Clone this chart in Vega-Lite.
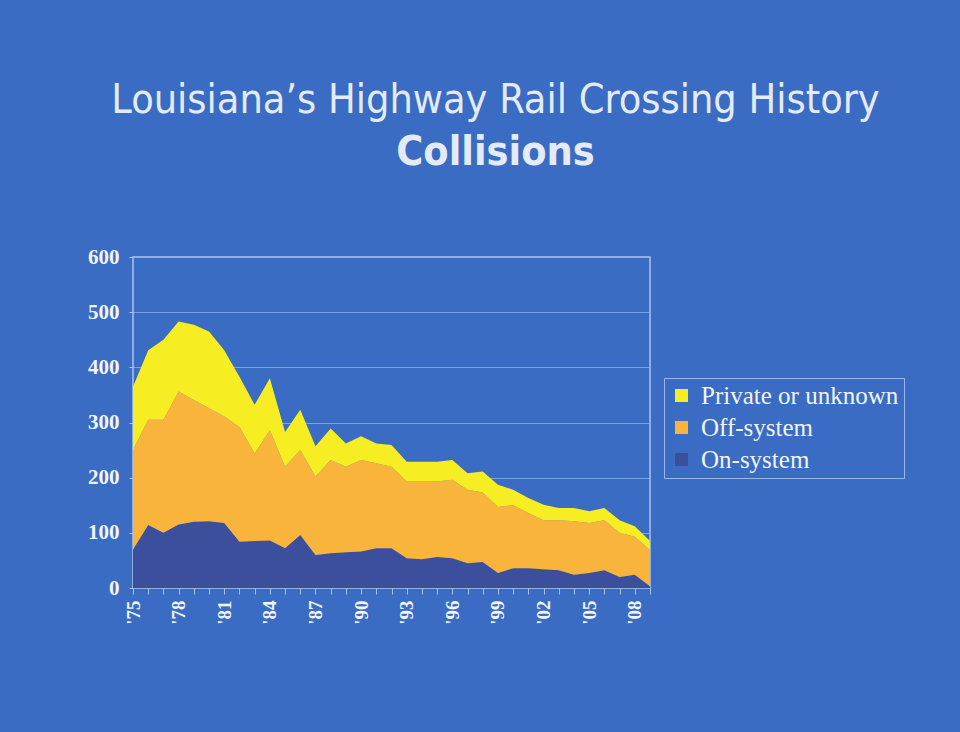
{
  "$schema": "https://vega.github.io/schema/vega-lite/v6.json",
  "autosize": "none",
  "width": 517,
  "height": 331,
  "padding": {"left": 133, "top": 257, "right": 310, "bottom": 144},
  "background": "#3a6cc3",
  "title": {
    "text": "Louisiana’s Highway Rail Crossing History",
    "subtitle": "Collisions",
    "anchor": "middle",
    "frame": "group",
    "dx": 104,
    "offset": 72,
    "font": "DejaVu Sans Condensed",
    "fontSize": 41,
    "fontWeight": "normal",
    "color": "#e4ebf7",
    "subtitleFont": "DejaVu Sans Condensed",
    "subtitleFontSize": 41,
    "subtitleFontWeight": "bold",
    "subtitleColor": "#e4ebf7",
    "subtitlePadding": 11
  },
  "config": {
    "view": {"stroke": "#a9c2f0", "strokeWidth": 1.5, "fill": "#3a6cc3"},
    "axis": {"domain": false}
  },
  "data": {
    "values": [
      {"year": 1975, "type": "On-system", "k": 1, "count": 70},
      {"year": 1975, "type": "Off-system", "k": 2, "count": 180},
      {"year": 1975, "type": "Private or unknown", "k": 3, "count": 115},
      {"year": 1976, "type": "On-system", "k": 1, "count": 114},
      {"year": 1976, "type": "Off-system", "k": 2, "count": 191},
      {"year": 1976, "type": "Private or unknown", "k": 3, "count": 126},
      {"year": 1977, "type": "On-system", "k": 1, "count": 100},
      {"year": 1977, "type": "Off-system", "k": 2, "count": 205},
      {"year": 1977, "type": "Private or unknown", "k": 3, "count": 145},
      {"year": 1978, "type": "On-system", "k": 1, "count": 115},
      {"year": 1978, "type": "Off-system", "k": 2, "count": 241},
      {"year": 1978, "type": "Private or unknown", "k": 3, "count": 127},
      {"year": 1979, "type": "On-system", "k": 1, "count": 120},
      {"year": 1979, "type": "Off-system", "k": 2, "count": 221},
      {"year": 1979, "type": "Private or unknown", "k": 3, "count": 136},
      {"year": 1980, "type": "On-system", "k": 1, "count": 121},
      {"year": 1980, "type": "Off-system", "k": 2, "count": 205},
      {"year": 1980, "type": "Private or unknown", "k": 3, "count": 139},
      {"year": 1981, "type": "On-system", "k": 1, "count": 118},
      {"year": 1981, "type": "Off-system", "k": 2, "count": 193},
      {"year": 1981, "type": "Private or unknown", "k": 3, "count": 120},
      {"year": 1982, "type": "On-system", "k": 1, "count": 84},
      {"year": 1982, "type": "Off-system", "k": 2, "count": 208},
      {"year": 1982, "type": "Private or unknown", "k": 3, "count": 91},
      {"year": 1983, "type": "On-system", "k": 1, "count": 85},
      {"year": 1983, "type": "Off-system", "k": 2, "count": 159},
      {"year": 1983, "type": "Private or unknown", "k": 3, "count": 88},
      {"year": 1984, "type": "On-system", "k": 1, "count": 86},
      {"year": 1984, "type": "Off-system", "k": 2, "count": 200},
      {"year": 1984, "type": "Private or unknown", "k": 3, "count": 94},
      {"year": 1985, "type": "On-system", "k": 1, "count": 72},
      {"year": 1985, "type": "Off-system", "k": 2, "count": 148},
      {"year": 1985, "type": "Private or unknown", "k": 3, "count": 63},
      {"year": 1986, "type": "On-system", "k": 1, "count": 96},
      {"year": 1986, "type": "Off-system", "k": 2, "count": 154},
      {"year": 1986, "type": "Private or unknown", "k": 3, "count": 73},
      {"year": 1987, "type": "On-system", "k": 1, "count": 60},
      {"year": 1987, "type": "Off-system", "k": 2, "count": 142},
      {"year": 1987, "type": "Private or unknown", "k": 3, "count": 55},
      {"year": 1988, "type": "On-system", "k": 1, "count": 63},
      {"year": 1988, "type": "Off-system", "k": 2, "count": 169},
      {"year": 1988, "type": "Private or unknown", "k": 3, "count": 57},
      {"year": 1989, "type": "On-system", "k": 1, "count": 65},
      {"year": 1989, "type": "Off-system", "k": 2, "count": 155},
      {"year": 1989, "type": "Private or unknown", "k": 3, "count": 42},
      {"year": 1990, "type": "On-system", "k": 1, "count": 66},
      {"year": 1990, "type": "Off-system", "k": 2, "count": 166},
      {"year": 1990, "type": "Private or unknown", "k": 3, "count": 43},
      {"year": 1991, "type": "On-system", "k": 1, "count": 72},
      {"year": 1991, "type": "Off-system", "k": 2, "count": 154},
      {"year": 1991, "type": "Private or unknown", "k": 3, "count": 36},
      {"year": 1992, "type": "On-system", "k": 1, "count": 72},
      {"year": 1992, "type": "Off-system", "k": 2, "count": 148},
      {"year": 1992, "type": "Private or unknown", "k": 3, "count": 39},
      {"year": 1993, "type": "On-system", "k": 1, "count": 54},
      {"year": 1993, "type": "Off-system", "k": 2, "count": 139},
      {"year": 1993, "type": "Private or unknown", "k": 3, "count": 36},
      {"year": 1994, "type": "On-system", "k": 1, "count": 52},
      {"year": 1994, "type": "Off-system", "k": 2, "count": 141},
      {"year": 1994, "type": "Private or unknown", "k": 3, "count": 36},
      {"year": 1995, "type": "On-system", "k": 1, "count": 56},
      {"year": 1995, "type": "Off-system", "k": 2, "count": 137},
      {"year": 1995, "type": "Private or unknown", "k": 3, "count": 36},
      {"year": 1996, "type": "On-system", "k": 1, "count": 54},
      {"year": 1996, "type": "Off-system", "k": 2, "count": 142},
      {"year": 1996, "type": "Private or unknown", "k": 3, "count": 36},
      {"year": 1997, "type": "On-system", "k": 1, "count": 45},
      {"year": 1997, "type": "Off-system", "k": 2, "count": 133},
      {"year": 1997, "type": "Private or unknown", "k": 3, "count": 30},
      {"year": 1998, "type": "On-system", "k": 1, "count": 47},
      {"year": 1998, "type": "Off-system", "k": 2, "count": 126},
      {"year": 1998, "type": "Private or unknown", "k": 3, "count": 38},
      {"year": 1999, "type": "On-system", "k": 1, "count": 27},
      {"year": 1999, "type": "Off-system", "k": 2, "count": 120},
      {"year": 1999, "type": "Private or unknown", "k": 3, "count": 40},
      {"year": 2000, "type": "On-system", "k": 1, "count": 36},
      {"year": 2000, "type": "Off-system", "k": 2, "count": 114},
      {"year": 2000, "type": "Private or unknown", "k": 3, "count": 28},
      {"year": 2001, "type": "On-system", "k": 1, "count": 36},
      {"year": 2001, "type": "Off-system", "k": 2, "count": 100},
      {"year": 2001, "type": "Private or unknown", "k": 3, "count": 27},
      {"year": 2002, "type": "On-system", "k": 1, "count": 34},
      {"year": 2002, "type": "Off-system", "k": 2, "count": 89},
      {"year": 2002, "type": "Private or unknown", "k": 3, "count": 28},
      {"year": 2003, "type": "On-system", "k": 1, "count": 32},
      {"year": 2003, "type": "Off-system", "k": 2, "count": 91},
      {"year": 2003, "type": "Private or unknown", "k": 3, "count": 22},
      {"year": 2004, "type": "On-system", "k": 1, "count": 24},
      {"year": 2004, "type": "Off-system", "k": 2, "count": 97},
      {"year": 2004, "type": "Private or unknown", "k": 3, "count": 24},
      {"year": 2005, "type": "On-system", "k": 1, "count": 27},
      {"year": 2005, "type": "Off-system", "k": 2, "count": 91},
      {"year": 2005, "type": "Private or unknown", "k": 3, "count": 21},
      {"year": 2006, "type": "On-system", "k": 1, "count": 32},
      {"year": 2006, "type": "Off-system", "k": 2, "count": 91},
      {"year": 2006, "type": "Private or unknown", "k": 3, "count": 22},
      {"year": 2007, "type": "On-system", "k": 1, "count": 20},
      {"year": 2007, "type": "Off-system", "k": 2, "count": 80},
      {"year": 2007, "type": "Private or unknown", "k": 3, "count": 23},
      {"year": 2008, "type": "On-system", "k": 1, "count": 24},
      {"year": 2008, "type": "Off-system", "k": 2, "count": 69},
      {"year": 2008, "type": "Private or unknown", "k": 3, "count": 19},
      {"year": 2009, "type": "On-system", "k": 1, "count": 3},
      {"year": 2009, "type": "Off-system", "k": 2, "count": 66},
      {"year": 2009, "type": "Private or unknown", "k": 3, "count": 16}
    ]
  },
  "mark": {"type": "area", "opacity": 1},
  "encoding": {
    "x": {
      "field": "year",
      "type": "quantitative",
      "scale": {"domain": [1975, 2009], "nice": false, "zero": false},
      "title": null,
      "axis": {
        "values": [1975,1976,1977,1978,1979,1980,1981,1982,1983,1984,1985,1986,1987,1988,1989,1990,1991,1992,1993,1994,1995,1996,1997,1998,1999,2000,2001,2002,2003,2004,2005,2006,2007,2008,2009],
        "labelExpr": "(datum.value - 1975) % 3 == 0 ? \"'\" + substring(toString(datum.value), 2) : ''",
        "labelAngle": -90,
        "labelOverlap": false,
        "labelFlush": false,
        "labelFont": "Liberation Serif",
        "labelFontWeight": "bold",
        "labelFontSize": 19,
        "labelColor": "#f2f5fc",
        "labelPadding": 6,
        "tickColor": "#a9c2f0",
        "tickSize": 6,
        "grid": false
      }
    },
    "y": {
      "field": "count",
      "type": "quantitative",
      "stack": "zero",
      "scale": {"domain": [0, 600], "nice": false},
      "title": null,
      "axis": {
        "values": [0, 100, 200, 300, 400, 500, 600],
        "labelFont": "Liberation Serif",
        "labelFontWeight": "bold",
        "labelFontSize": 21,
        "labelColor": "#f2f5fc",
        "labelPadding": 10,
        "tickColor": "#a9c2f0",
        "tickSize": 4,
        "grid": true,
        "gridColor": "#8fb0ea",
        "gridOpacity": 0.8
      }
    },
    "color": {
      "field": "type",
      "type": "nominal",
      "scale": {
        "domain": ["Private or unknown", "Off-system", "On-system"],
        "range": ["#f6ee22", "#f9b43c", "#3b4f9c"]
      },
      "legend": {
        "title": null,
        "orient": "none",
        "legendX": 531,
        "legendY": 121,
        "direction": "vertical",
        "symbolType": "square",
        "symbolSize": 170,
        "symbolStrokeWidth": 0,
        "labelFont": "Liberation Serif",
        "labelFontSize": 25,
        "labelColor": "#f2f5fc",
        "labelLimit": 300,
        "labelOffset": 7,
        "rowPadding": 6,
        "padding": 5,
        "strokeColor": "#9db6ea",
        "fillColor": "#3a6cc3"
      }
    },
    "order": {"field": "k", "type": "quantitative"}
  }
}
